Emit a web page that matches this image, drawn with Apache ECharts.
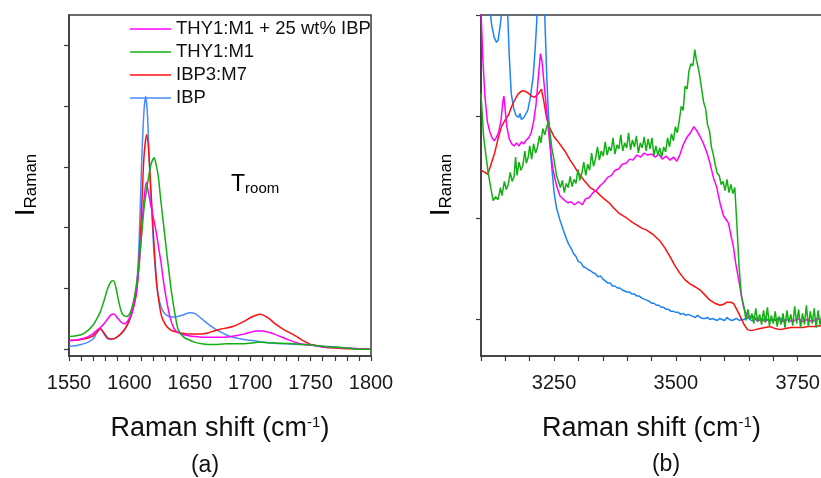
<!DOCTYPE html>
<html><head><meta charset="utf-8">
<script src="https://cdn.jsdelivr.net/npm/echarts@6/dist/echarts.min.js"></script>
<style>html,body{margin:0;padding:0;background:#fff}#c{width:821px;height:478px}</style>
</head><body><div id="c"></div>
<script>
// ---------- names ----------
const nameMix = 'THY1:M1 + 25 wt% IBP';
const nameThy = 'THY1:M1';
const nameIbp3 = 'IBP3:M7';
const nameIbp = 'IBP';
const legendOrder = [nameMix, nameThy, nameIbp3, nameIbp];

// ---------- axis ticks / labels ----------
const leftXLabels = [1550, 1600, 1650, 1700, 1750, 1800];
const rightXLabels = [3250, 3500, 3750];
const leftYTicks = [0, 1, 2, 3, 4, 5];
const rightYTicks = [0, 1, 2, 3];

// ---------- panel (a): 1550-1800 cm-1 ----------
const aIBP = [[1550,0.05],[1555,0.06],[1560,0.08],[1565,0.11],[1570,0.17],[1573,0.27],[1576,0.34],[1579,0.25],[1582,0.17],[1585,0.16],[1588,0.18],[1591,0.22],[1594,0.27],[1597,0.35],[1600,0.48],[1603,0.68],[1606,1.05],[1608,1.75],[1610,3.0],[1612,3.9],[1613.5,4.16],[1615,3.85],[1617,2.83],[1618.5,2.3],[1620,1.7],[1621.5,1.3],[1623,1.0],[1625,0.78],[1628,0.62],[1631,0.56],[1635,0.53],[1640,0.54],[1645,0.57],[1650,0.6],[1655,0.58],[1660,0.5],[1665,0.42],[1670,0.35],[1675,0.29],[1680,0.24],[1685,0.2],[1690,0.18],[1695,0.16],[1700,0.15],[1710,0.12],[1720,0.1],[1730,0.09],[1740,0.08],[1750,0.07],[1760,0.05],[1770,0.04],[1780,0.02],[1790,0.01],[1800,0.0]];
const aIBP3 = [[1550,0.15],[1555,0.15],[1560,0.16],[1565,0.18],[1570,0.22],[1573,0.28],[1576,0.34],[1579,0.27],[1582,0.19],[1585,0.17],[1588,0.18],[1591,0.22],[1594,0.28],[1597,0.36],[1600,0.48],[1603,0.66],[1606,0.95],[1608,1.45],[1610,2.25],[1612,3.15],[1614.3,3.53],[1616,3.25],[1618,2.55],[1620,1.85],[1622.5,1.1],[1624.5,0.78],[1626.7,0.54],[1630,0.4],[1634,0.32],[1638,0.29],[1645,0.26],[1650,0.25],[1655,0.25],[1660,0.25],[1665,0.27],[1670,0.3],[1675,0.33],[1680,0.35],[1685,0.37],[1690,0.41],[1695,0.46],[1700,0.52],[1705,0.56],[1708,0.575],[1712,0.55],[1716,0.5],[1720,0.43],[1725,0.36],[1730,0.3],[1735,0.25],[1740,0.19],[1745,0.13],[1750,0.08],[1755,0.06],[1760,0.04],[1770,0.02],[1780,0.01],[1790,0.01],[1800,0.0]];
const aMix = [[1550,0.14],[1555,0.15],[1560,0.17],[1565,0.2],[1570,0.26],[1573,0.31],[1576,0.36],[1579,0.42],[1582,0.5],[1585,0.57],[1587,0.58],[1590,0.52],[1593,0.45],[1596,0.42],[1599,0.48],[1602,0.6],[1605,0.85],[1608,1.35],[1610,1.9],[1612,2.45],[1614,2.75],[1616,2.55],[1618,2.34],[1620,2.15],[1622,1.95],[1624,1.7],[1626,1.45],[1628,1.15],[1631,0.78],[1634,0.5],[1637,0.34],[1640,0.28],[1645,0.24],[1650,0.22],[1655,0.21],[1660,0.2],[1670,0.2],[1680,0.2],[1690,0.23],[1695,0.25],[1700,0.28],[1705,0.3],[1710,0.3],[1715,0.28],[1720,0.25],[1725,0.21],[1730,0.17],[1735,0.13],[1740,0.1],[1745,0.08],[1750,0.07],[1760,0.04],[1770,0.03],[1780,0.02],[1790,0.01],[1800,0.0]];
const aThy = [[1550,0.21],[1555,0.22],[1560,0.24],[1565,0.3],[1570,0.4],[1573,0.5],[1576,0.62],[1579,0.8],[1582,1.0],[1585,1.12],[1587,1.13],[1589,1.0],[1591,0.8],[1593,0.64],[1595,0.56],[1598,0.54],[1601,0.62],[1604,0.85],[1607,1.25],[1610,1.85],[1612,2.3],[1614,2.6],[1616,2.85],[1618,3.05],[1620.5,3.15],[1622,3.05],[1624,2.83],[1626,2.45],[1628,2.1],[1630,1.75],[1632,1.4],[1635,0.92],[1638,0.55],[1640.5,0.32],[1645,0.2],[1650,0.15],[1655,0.11],[1660,0.09],[1665,0.08],[1670,0.08],[1680,0.09],[1690,0.09],[1700,0.1],[1708,0.12],[1715,0.11],[1725,0.1],[1735,0.09],[1745,0.08],[1755,0.06],[1765,0.04],[1775,0.03],[1785,0.01],[1790,0.0],[1800,0.0]];

// ---------- panel (b): 3100-3800 cm-1 ----------
const bIBP = [[3100,3.6],[3110,3.3],[3118,3.05],[3122,2.9],[3127,2.78],[3132,2.73],[3135,2.75],[3139,2.88],[3142,3.0],[3146,3.3],[3150,3.3],[3155,2.98],[3158,2.6],[3162,2.23],[3167,2.08],[3172,2.01],[3177,1.99],[3180,2.03],[3183,1.97],[3188,1.99],[3192,2.0],[3196,2.06],[3201,2.18],[3207,2.39],[3211,2.65],[3214,2.9],[3218,3.3],[3226,3.4],[3231,2.98],[3235,2.4],[3238,2.06],[3244,1.57],[3250,1.25],[3255,1.1],[3262,0.98],[3269,0.88],[3275,0.8],[3280,0.74],[3285,0.7],[3290,0.65],[3295,0.62],[3300,0.57],[3305,0.56],[3310,0.52],[3315,0.51],[3320,0.49],[3325,0.48],[3330,0.46],[3335,0.45],[3340,0.42],[3345,0.43],[3350,0.4],[3355,0.38],[3360,0.36],[3365,0.36],[3370,0.33],[3375,0.33],[3380,0.31],[3385,0.31],[3390,0.29],[3395,0.28],[3400,0.27],[3405,0.27],[3410,0.25],[3415,0.25],[3420,0.23],[3425,0.23],[3430,0.21],[3435,0.2],[3440,0.19],[3445,0.18],[3450,0.16],[3455,0.16],[3460,0.14],[3465,0.14],[3470,0.12],[3475,0.12],[3480,0.1],[3485,0.1],[3490,0.08],[3495,0.08],[3500,0.07],[3505,0.07],[3510,0.05],[3515,0.06],[3520,0.04],[3525,0.05],[3530,0.04],[3535,0.03],[3540,0.02],[3545,0.04],[3550,0.02],[3555,0.01],[3560,0.01],[3565,0.02],[3570,0.0],[3575,0.01],[3580,0.0],[3585,-0.01],[3590,0.01],[3595,0.0],[3600,-0.01],[3605,0.02],[3610,0.0],[3615,-0.01],[3620,0.0],[3625,0.01],[3630,-0.01],[3635,0.0],[3640,0.0],[3645,0.02],[3650,0.01],[3655,-0.01],[3660,-0.01],[3665,0.01],[3670,0.0],[3675,-0.01],[3680,0.0],[3685,0.01],[3690,-0.01],[3695,0.0],[3700,0.0],[3705,-0.01],[3710,0.0],[3715,0.01],[3720,-0.01],[3728,0.0]];
const bIBP3 = [[3100,1.47],[3108,1.45],[3114,1.43],[3120,1.52],[3128,1.64],[3135,1.78],[3142,1.9],[3150,1.97],[3157,2.02],[3163,2.1],[3169,2.16],[3176,2.22],[3183,2.25],[3190,2.25],[3197,2.23],[3204,2.2],[3210,2.19],[3217,2.22],[3224,2.27],[3229,2.15],[3234,2.0],[3240,1.9],[3250,1.8],[3260,1.74],[3272,1.66],[3283,1.57],[3290,1.52],[3299,1.45],[3310,1.38],[3324,1.3],[3337,1.26],[3350,1.2],[3365,1.14],[3372,1.1],[3385,1.04],[3399,1.0],[3410,0.96],[3420,0.93],[3430,0.9],[3440,0.88],[3455,0.83],[3468,0.77],[3478,0.7],[3488,0.62],[3498,0.53],[3509,0.45],[3519,0.39],[3529,0.35],[3540,0.32],[3550,0.29],[3560,0.24],[3570,0.19],[3580,0.16],[3591,0.14],[3598,0.15],[3605,0.17],[3612,0.17],[3618,0.16],[3625,0.1],[3632,0.03],[3640,-0.05],[3647,-0.1],[3655,-0.11],[3663,-0.1],[3673,-0.09],[3683,-0.08],[3694,-0.07],[3704,-0.09],[3714,-0.1],[3725,-0.09],[3736,-0.08],[3748,-0.08],[3760,-0.08],[3772,-0.07],[3785,-0.07],[3800,-0.06]];
const bMix = [[3100,3.05],[3104,2.55],[3108,2.2],[3113,1.95],[3118,1.85],[3122,1.8],[3127,1.76],[3131,1.79],[3136,1.84],[3141,1.96],[3145,2.15],[3147,2.2],[3150,2.05],[3153,1.9],[3158,1.78],[3163,1.73],[3168,1.71],[3173,1.74],[3178,1.71],[3183,1.75],[3188,1.73],[3193,1.77],[3198,1.79],[3203,1.84],[3208,1.95],[3213,2.12],[3218,2.4],[3222,2.62],[3225,2.55],[3229,2.35],[3234,2.1],[3238,1.88],[3243,1.65],[3248,1.47],[3255,1.32],[3262,1.22],[3270,1.18],[3278,1.15],[3285,1.16],[3292,1.13],[3300,1.16],[3308,1.13],[3315,1.19],[3322,1.2],[3330,1.25],[3338,1.28],[3345,1.32],[3352,1.35],[3360,1.4],[3368,1.42],[3375,1.47],[3382,1.48],[3390,1.53],[3398,1.54],[3405,1.58],[3412,1.57],[3420,1.62],[3428,1.6],[3435,1.64],[3442,1.62],[3450,1.63],[3458,1.6],[3465,1.63],[3472,1.58],[3480,1.61],[3488,1.57],[3495,1.6],[3502,1.56],[3508,1.62],[3515,1.72],[3522,1.79],[3530,1.84],[3537,1.9],[3543,1.86],[3550,1.8],[3557,1.73],[3564,1.64],[3570,1.54],[3577,1.4],[3584,1.3],[3591,1.14],[3598,1.02],[3604,0.98],[3608,0.95],[3613,0.83],[3618,0.72],[3623,0.55],[3629,0.39],[3634,0.25],[3639,0.12],[3645,0.05],[3653,0.01],[3660,0.03],[3668,-0.02],[3675,0.01],[3683,-0.02],[3690,0.0],[3700,-0.01],[3710,0.01],[3720,-0.02],[3730,0.0],[3740,-0.02],[3750,0.01],[3760,-0.02],[3770,0.0],[3780,-0.02],[3790,0.01],[3800,-0.01]];
const bThy = [[3100,2.23],[3105,1.82],[3110,1.62],[3115,1.44],[3120,1.3],[3125,1.17],[3130,1.21],[3135,1.18],[3140,1.3],[3143,1.22],[3148,1.36],[3152,1.28],[3156,1.33],[3160,1.45],[3164,1.36],[3168,1.41],[3171,1.6],[3174,1.42],[3178,1.55],[3182,1.47],[3186,1.52],[3190,1.66],[3193,1.54],[3197,1.6],[3200,1.71],[3204,1.58],[3208,1.73],[3212,1.64],[3216,1.7],[3220,1.81],[3223,1.74],[3227,1.88],[3231,1.82],[3235,1.9],[3239,1.95],[3245,1.7],[3250,1.57],[3255,1.42],[3259,1.36],[3263,1.3],[3267,1.37],[3271,1.25],[3275,1.34],[3279,1.3],[3283,1.41],[3287,1.31],[3291,1.38],[3295,1.34],[3299,1.48],[3303,1.37],[3307,1.44],[3311,1.55],[3315,1.42],[3319,1.53],[3323,1.47],[3327,1.64],[3331,1.51],[3335,1.58],[3339,1.7],[3343,1.57],[3347,1.66],[3351,1.61],[3355,1.75],[3359,1.62],[3363,1.7],[3367,1.66],[3371,1.79],[3375,1.63],[3379,1.72],[3383,1.68],[3387,1.82],[3391,1.66],[3395,1.74],[3399,1.69],[3403,1.84],[3407,1.67],[3411,1.77],[3415,1.7],[3419,1.81],[3423,1.64],[3427,1.74],[3431,1.69],[3435,1.8],[3439,1.66],[3443,1.78],[3447,1.68],[3451,1.79],[3455,1.61],[3459,1.71],[3463,1.62],[3467,1.69],[3471,1.6],[3475,1.7],[3479,1.65],[3483,1.79],[3487,1.7],[3491,1.83],[3495,1.76],[3499,1.9],[3503,1.84],[3507,1.96],[3511,2.1],[3515,2.06],[3519,2.3],[3523,2.27],[3527,2.45],[3531,2.52],[3535,2.5],[3539,2.66],[3542,2.56],[3545,2.5],[3549,2.4],[3553,2.27],[3557,2.14],[3561,2.08],[3565,1.92],[3569,1.86],[3573,1.7],[3577,1.62],[3581,1.52],[3585,1.44],[3589,1.42],[3593,1.33],[3597,1.36],[3601,1.27],[3605,1.38],[3609,1.25],[3613,1.33],[3617,1.24],[3621,1.3],[3625,0.96],[3630,0.5],[3635,0.22],[3640,0.12],[3644,-0.01],[3648,0.1],[3652,0.0],[3656,0.06],[3660,-0.04],[3664,0.11],[3668,-0.02],[3672,0.05],[3676,-0.05],[3680,0.09],[3684,-0.03],[3688,0.12],[3692,-0.06],[3696,0.04],[3700,-0.04],[3704,0.08],[3708,-0.07],[3712,0.03],[3716,-0.05],[3720,0.06],[3724,-0.08],[3728,0.09],[3732,-0.03],[3736,0.05],[3740,-0.06],[3744,0.13],[3748,-0.04],[3752,0.1],[3756,-0.08],[3760,0.06],[3764,-0.05],[3768,0.14],[3772,-0.07],[3776,0.08],[3780,-0.04],[3784,0.11],[3788,-0.08],[3792,0.09],[3796,-0.05],[3800,0.06]];

// ---------- styling ----------
const FONT = '"Liberation Sans", Arial, sans-serif';
const AX = '#3a3a3a';
const colMix = '#ff00ff', colThy = '#12b012', colIbp3 = '#ff1010', colIbpA = '#4a8cff', colIbpB = '#1c84f5';

const chart = echarts.init(document.getElementById('c'), null, {renderer: 'canvas'});

function xAxisCfg(grid, min, max, step, labels) {
  return {
    gridIndex: grid, type: 'value', min: min, max: max, interval: step,
    axisLine: {show: true, onZero: false, lineStyle: {color: AX, width: 1.5}},
    axisTick: {show: true, inside: false, length: 5, lineStyle: {color: AX, width: 1.2}},
    axisLabel: {show: true, margin: 17, fontSize: 20, fontFamily: FONT, color: '#1a1a1a',
      formatter: function (v) { return labels.indexOf(Math.round(v)) >= 0 ? String(Math.round(v)) : ''; }},
    splitLine: {show: false},
    name: '{m|Raman shift (cm}{s|-1}{m|)}', nameLocation: 'middle', nameGap: 59,
    nameTextStyle: {rich: {
      m: {fontSize: 27, fontFamily: FONT, color: '#111'},
      s: {fontSize: 15, fontFamily: FONT, color: '#111', verticalAlign: 'top'}
    }}
  };
}
function yAxisCfg(grid, min, max, ticks) {
  return {
    gridIndex: grid, type: 'value', min: min, max: max,
    axisLine: {show: true, onZero: false, lineStyle: {color: AX, width: 1.5}},
    axisTick: {show: true, inside: false, length: 5, customValues: ticks, lineStyle: {color: AX, width: 1.2}},
    axisLabel: {show: false},
    splitLine: {show: false}
  };
}
function line(name, data, xi, color, smooth) {
  return {type: 'line', name: name, data: data, xAxisIndex: xi, yAxisIndex: xi,
    symbol: 'none', showSymbol: false, smooth: smooth, clip: true, animation: false,
    lineStyle: {color: color, width: 1.5}, itemStyle: {color: color}};
}

const richI = {
  i: {fontSize: 28, fontFamily: FONT, color: '#111'},
  s: {fontSize: 17, fontFamily: FONT, color: '#111', verticalAlign: 'bottom'}
};

chart.setOption({
  animation: false,
  backgroundColor: '#fff',
  grid: [
    {left: 69, top: 15, width: 302, height: 341, show: true, borderColor: AX, borderWidth: 1.5, backgroundColor: 'transparent', outerBoundsMode: 'none'},
    {left: 481, top: 15, width: 341, height: 341, show: true, borderColor: AX, borderWidth: 1.5, backgroundColor: 'transparent', outerBoundsMode: 'none'}
  ],
  xAxis: [xAxisCfg(0, 1550, 1800, 10, leftXLabels), xAxisCfg(1, 3100, 3800, 50, rightXLabels)],
  yAxis: [yAxisCfg(0, -0.11, 5.5, leftYTicks), yAxisCfg(1, -0.36, 3.0, rightYTicks)],
  legend: {
    data: legendOrder, orient: 'vertical', left: 125, top: 14,
    icon: 'rect', itemWidth: 41, itemHeight: 1.6, itemGap: 3, selectedMode: false,
    textStyle: {fontSize: 18.5, fontFamily: FONT, color: '#111', lineHeight: 20}
  },
  series: [
    line(nameIbp, aIBP, 0, colIbpA, 0.25),
    line(nameIbp3, aIBP3, 0, colIbp3, 0.25),
    line(nameMix, aMix, 0, colMix, 0.25),
    line(nameThy, aThy, 0, colThy, 0.25),
    line(nameIbp, bIBP, 1, colIbpB, false),
    line(nameIbp3, bIBP3, 1, colIbp3, false),
    line(nameMix, bMix, 1, colMix, false),
    line(nameThy, bThy, 1, colThy, false)
  ],
  graphic: [
    {type: 'text', x: 26, y: 185, rotation: Math.PI / 2,
      style: {text: '{i|I}{s|Raman}', rich: richI, align: 'center', verticalAlign: 'middle'}},
    {type: 'text', x: 441, y: 185, rotation: Math.PI / 2,
      style: {text: '{i|I}{s|Raman}', rich: richI, align: 'center', verticalAlign: 'middle'}},
    {type: 'text', x: 231, y: 185,
      style: {text: '{t|T}{s|room}', align: 'left', verticalAlign: 'middle', rich: {
        t: {fontSize: 23, fontFamily: FONT, color: '#111'},
        s: {fontSize: 15, fontFamily: FONT, color: '#111', verticalAlign: 'bottom', padding: [3, 0, 0, 0]}}}},
    {type: 'text', x: 205, y: 466, style: {text: '(a)', fontSize: 23, fontFamily: FONT, fill: '#111', align: 'center', verticalAlign: 'middle'}},
    {type: 'text', x: 666, y: 465, style: {text: '(b)', fontSize: 23, fontFamily: FONT, fill: '#111', align: 'center', verticalAlign: 'middle'}}
  ]
});
</script></body></html>
